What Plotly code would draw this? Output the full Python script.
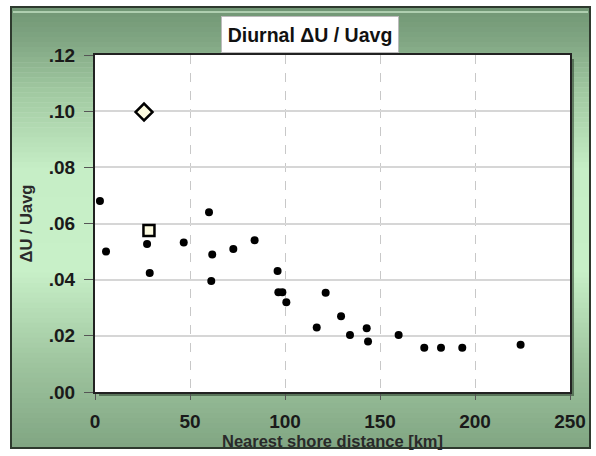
import plotly.graph_objects as go

# ---- data ----
dist_km = [2.6, 5.8, 27.4, 28.8, 46.7, 60.0, 61.7, 61.2, 72.8, 84.0,
           96.1, 96.5, 98.6, 100.7, 121.4, 116.7, 129.5, 134.2, 143.0,
           143.7, 159.8, 173.3, 182.1, 193.3, 224.0]
du_ratio = [0.068, 0.050, 0.0527, 0.0424, 0.0532, 0.064, 0.049, 0.0395,
            0.0509, 0.054, 0.0431, 0.0355, 0.0355, 0.032, 0.0353, 0.023,
            0.027, 0.0203, 0.0227, 0.018, 0.0203, 0.0158, 0.0158, 0.0158,
            0.0168]
diamond_x = [25.8]
diamond_y = [0.0997]
square_x = [28.4]
square_y = [0.0575]
x_ticks = [0, 50, 100, 150, 200, 250]
y_ticks = [0.00, 0.02, 0.04, 0.06, 0.08, 0.10, 0.12]
y_tick_labels = [".00", ".02", ".04", ".06", ".08", ".10", ".12"]

W, H = 596, 456
L, R, T, B = 95, 570, 55, 392


def px(xp):
    return (xp - L) / (R - L)


def py(yp):
    return (B - yp) / (B - T)


FONT = "Liberation Sans Narrow, Arial Narrow, Liberation Sans, sans-serif"

fig = go.Figure()
fig.add_trace(go.Scatter(x=dist_km, y=du_ratio, mode="markers",
                         marker=dict(color="black", size=8),
                         showlegend=False))
fig.add_trace(go.Scatter(x=diamond_x, y=diamond_y, mode="markers",
                         marker=dict(symbol="diamond", size=13, color="#fdfbe0",
                                     line=dict(color="black", width=2.5)),
                         showlegend=False))
fig.add_trace(go.Scatter(x=square_x, y=square_y, mode="markers",
                         marker=dict(symbol="square", size=11, color="#fdfbe0",
                                     line=dict(color="black", width=2.5)),
                         showlegend=False))

# background gradient frame
stops = [(7, (112, 150, 116)), (40, (128, 165, 130)), (90, (160, 200, 160)),
         (170, (198, 238, 198)), (270, (200, 240, 200)), (360, (160, 198, 160)),
         (448, (128, 165, 130))]


def col(yv):
    for (y0, c0), (y1, c1) in zip(stops[:-1], stops[1:]):
        if y0 <= yv <= y1:
            t = (yv - y0) / (y1 - y0)
            return "rgb(%d,%d,%d)" % tuple(round(a + (b - a) * t) for a, b in zip(c0, c1))
    return "rgb(%d,%d,%d)" % stops[-1][1]


shapes = []
n = 88
y_top, y_bot = 7, 448
step = (y_bot - y_top) / n
for i in range(n):
    y0 = y_top + i * step
    y1 = y0 + step + 0.6
    shapes.append(dict(type="rect", xref="paper", yref="paper",
                       x0=px(11), x1=px(590), y0=py(y0), y1=py(min(y1, y_bot)),
                       fillcolor=col(y0 + step / 2), line=dict(width=0),
                       layer="below"))
# bevel highlight at top
shapes.append(dict(type="line", xref="paper", yref="paper",
                   x0=px(13), x1=px(588), y0=py(12), y1=py(12),
                   line=dict(color="rgba(190,220,190,0.8)", width=2), layer="below"))
# outer frame border
shapes.append(dict(type="rect", xref="paper", yref="paper",
                   x0=px(11), x1=px(590), y0=py(7), y1=py(448),
                   fillcolor="rgba(0,0,0,0)", line=dict(color="#2e3a2e", width=2),
                   layer="below"))
# plot shadow
shapes.append(dict(type="rect", xref="paper", yref="paper",
                   x0=px(L + 4), x1=px(R + 4), y0=py(B + 4), y1=py(T + 4),
                   fillcolor="rgba(40,60,40,0.55)", line=dict(width=0),
                   layer="below"))
# plot area white background
shapes.append(dict(type="rect", xref="paper", yref="paper",
                   x0=0, x1=1, y0=0, y1=1,
                   fillcolor="white", line=dict(width=0),
                   layer="below"))

fig.update_layout(
    width=W, height=H,
    margin=dict(l=L, r=W - R, t=T, b=H - B, pad=0, autoexpand=False),
    paper_bgcolor="rgba(0,0,0,0)",
    plot_bgcolor="white",
    shapes=shapes,
    showlegend=False,
    font=dict(family=FONT, color="#1a1a1a"),
    xaxis=dict(range=[0, 250], tickvals=x_ticks, ticks="outside", ticklen=6,
               tickcolor="#555", tickwidth=1, automargin=False,
               ticklabelstandoff=5,
               tickfont=dict(size=19, family=FONT, weight="bold", color="#1a1a1a"),
               showgrid=True, gridcolor="#c8c8c8", griddash="dash", gridwidth=1,
               showline=True, linecolor="#222", linewidth=2, mirror=True,
               zeroline=False,
               title=dict(text="Nearest shore distance [km]", standoff=0,
                          font=dict(size=16.5, family=FONT, weight="bold", color="#2a2a2a"))),
    yaxis=dict(range=[0, 0.12], tickvals=y_ticks, ticktext=y_tick_labels,
               ticks="outside", ticklen=9, tickcolor="#555", tickwidth=1,
               automargin=False, ticklabelstandoff=5,
               tickfont=dict(size=19, family=FONT, weight="bold", color="#1a1a1a"),
               showgrid=True, gridcolor="#d6d6d6", gridwidth=1.5,
               showline=True, linecolor="#222", linewidth=2, mirror=True,
               zeroline=False,
               title=dict(text="ΔU / Uavg", standoff=12,
                          font=dict(size=16.5, family=FONT, weight="bold", color="#2a2a2a"))),
    annotations=[dict(text="Diurnal ΔU / Uavg", xref="paper", yref="paper",
                      x=px(310), y=py(34.5), xanchor="center", yanchor="middle",
                      showarrow=False, bgcolor="white", bordercolor="#bbbbbb",
                      borderwidth=1, borderpad=3, width=170, height=29,
                      font=dict(size=19.5, family=FONT, weight="bold", color="#111"))],
)

fig.write_html("out.html", config={"displayModeBar": False},
               post_script="document.body.style.margin='0';document.body.style.padding='0';")
